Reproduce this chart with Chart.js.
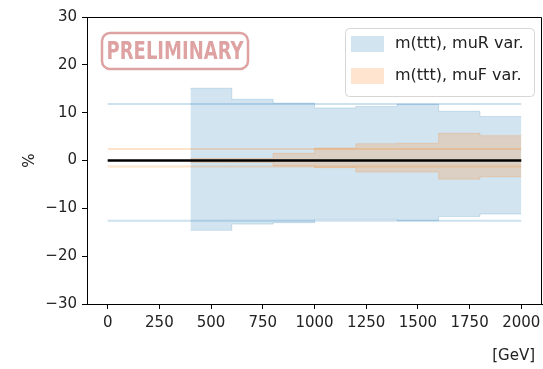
<!DOCTYPE html>
<html>
<head>
<meta charset="utf-8">
<script src="https://cdn.jsdelivr.net/npm/chart.js@4"></script>
<style>
  html, body { margin: 0; padding: 0; background: #fff; }
  #wrap { width: 543px; height: 369px; }
</style>
</head>
<body>
<div id="wrap"><canvas id="scaleVar" width="543" height="369"></canvas></div>
<script>
// bin left edges, last entry closes the final bin
const binEdges = [400, 600, 800, 1000, 1200, 1400, 1600, 1800, 2000]
const muRUp = [15.1, 12.8, 12.0, 11.0, 11.3, 11.8, 10.3, 9.2]
const muRDown = [-14.6, -13.3, -13.0, -12.3, -12.3, -12.6, -11.7, -11.2]
const muFUp = [0.4, 0.4, 1.5, 2.6, 3.5, 3.6, 5.7, 5.2]
const muFDown = [-0.4, -0.4, -1.1, -1.5, -2.4, -2.4, -3.9, -3.4]
// flat reference lines across the whole range
const lineRange = [0, 2000]
const muRLines = [11.8, -12.6]
const muFLines = [2.4, -1.25]
const legendLabels = ['m(ttt), muR var.', 'm(ttt), muF var.']
const yTicks = [-30, -20, -10, 0, 10, 20, 30]
const xTicks = [0, 250, 500, 750, 1000, 1250, 1500, 1750, 2000]

const blueFill = 'rgba(31,119,180,0.2)'
const orangeFill = 'rgba(255,127,14,0.2)'
const FONT = "'DejaVu Sans', sans-serif"

function steps(vals) {
    const pts = vals.map((v, i) => ({ x: binEdges[i], y: v }))
    pts.push({ x: binEdges[binEdges.length - 1], y: vals[vals.length - 1] })
    return pts
}

function flat(v) {
    return lineRange.map(x => ({ x: x, y: v }))
}

function band(vals, color, edge, fill, order) {
    return {
        data: steps(vals),
        stepped: true,
        borderColor: edge,
        borderWidth: 1,
        backgroundColor: color,
        fill: fill,
        pointRadius: 0,
        order: order
    }
}

function hline(v, color) {
    return {
        data: flat(v),
        borderColor: color,
        borderWidth: 2,
        pointRadius: 0,
        fill: false,
        order: 3
    }
}

const frame = {
    id: 'frame',
    afterDraw(chart) {
        const ctx = chart.ctx
        const a = chart.chartArea
        ctx.save()
        // top and right spines
        ctx.strokeStyle = '#000'
        ctx.lineWidth = 1
        ctx.beginPath()
        ctx.moveTo(a.left, a.top + 0.5)
        ctx.lineTo(a.right - 0.5, a.top + 0.5)
        ctx.lineTo(a.right - 0.5, a.bottom)
        ctx.stroke()

        // x unit label
        ctx.fillStyle = '#222'
        ctx.font = '15px ' + FONT
        ctx.textAlign = 'right'
        ctx.textBaseline = 'middle'
        ctx.fillText('[GeV]', 535, 356)

        // preliminary stamp
        const sx = 102, sy = 33, sw = 146, sh = 36, r = 8
        ctx.strokeStyle = 'rgba(200,100,100,0.6)'
        ctx.lineWidth = 2.5
        ctx.beginPath()
        ctx.roundRect(sx, sy, sw, sh, r)
        ctx.stroke()
        ctx.fillStyle = 'rgba(200,100,100,0.6)'
        ctx.font = "bold 25px 'DejaVu Sans Condensed', 'Liberation Sans Narrow', sans-serif"
        ctx.textAlign = 'center'
        ctx.save()
        ctx.translate(sx + sw / 2, sy + sh / 2 + 1)
        ctx.scale(0.8, 1)
        ctx.fillText('PRELIMINARY', 0, 0)
        ctx.restore()

        // legend
        const lx = 345, ly = 28, lw = 189, lh = 68
        ctx.fillStyle = 'rgba(255,255,255,0.8)'
        ctx.strokeStyle = '#d6d6d6'
        ctx.lineWidth = 1
        ctx.beginPath()
        ctx.roundRect(lx + 0.5, ly + 0.5, lw, lh, 4)
        ctx.fill()
        ctx.stroke()
        const fills = [blueFill, orangeFill]
        ctx.font = '16px ' + FONT
        ctx.textAlign = 'left'
        legendLabels.forEach((t, i) => {
            const y = ly + 16 + i * 32
            ctx.fillStyle = fills[i]
            ctx.fillRect(lx + 6, y - 8, 33, 16)
            ctx.fillStyle = '#222'
            ctx.fillText(t, lx + 50, y)
        })
        ctx.restore()
    }
}

window.addEventListener('load', () => {
    const el = document.getElementById('scaleVar')

    new Chart(el, {
        type: 'line',
        data: {
            datasets: [
                { ...hline(0, '#000'), borderWidth: 2.5, order: 0 },
                band(muRUp, blueFill, 'rgba(31,119,180,0.18)', '+1', 5),
                band(muRDown, 'transparent', 'rgba(31,119,180,0.18)', false, 5),
                band(muFUp, orangeFill, 'rgba(255,127,14,0.2)', '+1', 4),
                band(muFDown, 'transparent', 'rgba(255,127,14,0.2)', false, 4),
                hline(muRLines[0], 'rgba(31,119,180,0.22)'),
                hline(muRLines[1], 'rgba(31,119,180,0.22)'),
                hline(muFLines[0], 'rgba(255,127,14,0.22)'),
                hline(muFLines[1], 'rgba(255,127,14,0.22)')
            ]
        },
        options: {
            responsive: false,
            animation: false,
            layout: { padding: { top: 17, right: 1, left: 0, bottom: 0 } },
            plugins: {
                legend: { display: false },
                tooltip: { enabled: false }
            },
            scales: {
                x: {
                    type: 'linear',
                    min: -100,
                    max: 2100,
                    afterBuildTicks: s => { s.ticks = xTicks.map(v => ({ value: v })) },
                    afterFit: s => { s.height = 65; s.paddingLeft = 0; s.paddingRight = 0 },
                    grid: { drawOnChartArea: false, drawTicks: true, tickLength: 5, tickColor: '#000', tickWidth: 1 },
                    border: { display: true, color: '#000', width: 1 },
                    ticks: {
                        color: '#222', font: { family: FONT, size: 15 }, padding: 5, maxRotation: 0, autoSkip: false,
                        callback: v => String(v)
                    }
                },
                y: {
                    min: -30,
                    max: 30,
                    afterBuildTicks: s => { s.ticks = yTicks.map(v => ({ value: v })) },
                    afterFit: s => { s.width = 87; s.paddingTop = 0; s.paddingBottom = 0 },
                    grid: { drawOnChartArea: false, drawTicks: true, tickLength: 5, tickColor: '#000', tickWidth: 1 },
                    border: { display: true, color: '#000', width: 1 },
                    ticks: {
                        color: '#222', font: { family: FONT, size: 15 }, padding: 5,
                        callback: v => (v < 0 ? '\u2212' + Math.abs(v) : String(v))
                    },
                    title: { display: true, text: '%', color: '#222', font: { family: FONT, size: 15 }, padding: { top: 21, bottom: 0 } }
                }
            }
        },
        plugins: [frame]
    })
})
</script>
</body>
</html>
